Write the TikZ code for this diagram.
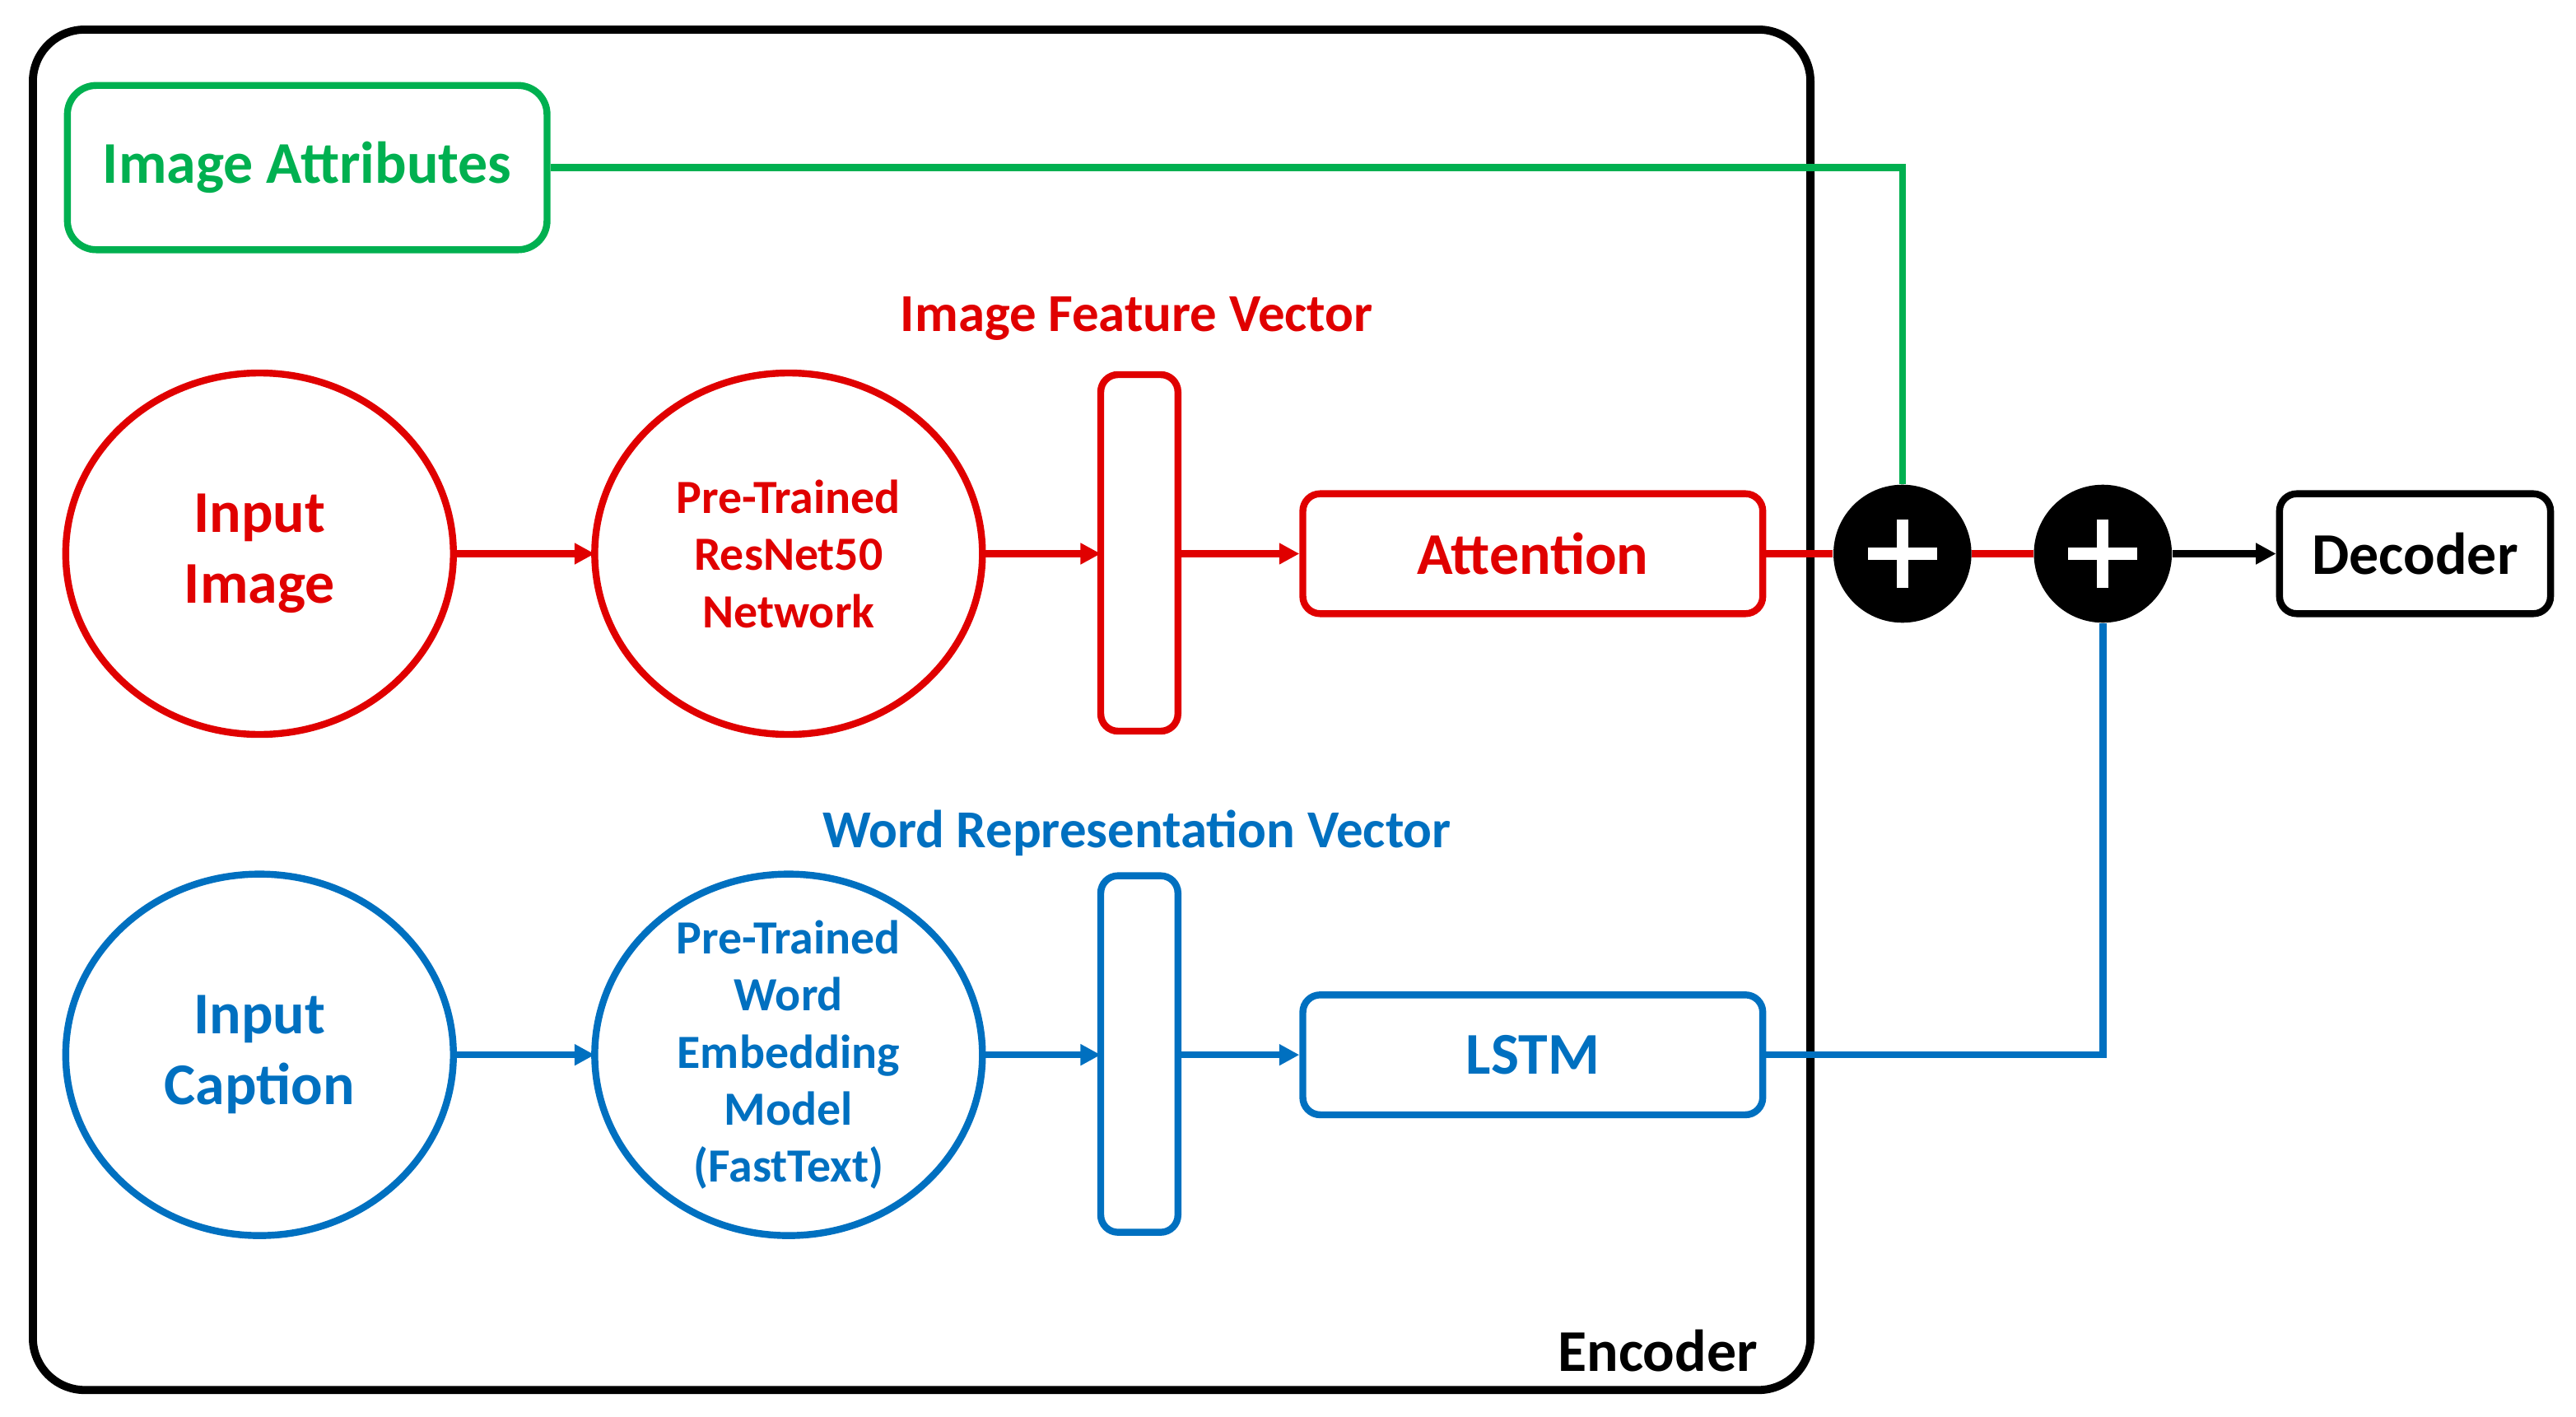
\documentclass[tikz,border=0pt]{standalone}
\usepackage{fontspec}
\setmainfont{Carlito}
\usetikzlibrary{arrows.meta}
\definecolor{cred}{HTML}{E00000}
\definecolor{cblue}{HTML}{0070C0}
\definecolor{cgreen}{HTML}{00B050}
\begin{document}
\begin{tikzpicture}[x=0.02cm,y=-0.02cm,
  lw/.style={line width=2.4pt},
  box/.style={lw,draw,rounded corners=6pt,align=center,font=\fontsize{20.5}{24}\selectfont\bfseries},
  arr/.style={lw,-{Triangle[length=7pt,width=7pt]}},
  plus/.style={circle,fill=black,minimum size=1.68cm,inner sep=0pt},
  big/.style={font=\fontsize{20.5}{24.5}\selectfont\bfseries,align=center},
  lab/.style={font=\fontsize{18.5}{22}\selectfont\bfseries,align=center},
  small/.style={font=\fontsize{16.5}{19.8}\selectfont\bfseries,align=center}]
\useasboundingbox (0,0) rectangle (1568,862);
% encoder
\draw[line width=2.8pt,rounded corners=18pt] (20,18) rectangle (1102,846);
\node[big,anchor=east] (enc) at (1076,822) {Encoder};
% attributes
\node[box,draw=cgreen,text=cgreen,minimum width=5.84cm,minimum height=2cm,rounded corners=10pt] (attr) at (187,102) {Image Attributes};
% red row
\draw[lw,cred] (158,337) ellipse [x radius=118,y radius=110];
\node[big,text=cred] (ii) at (158,337) {Input\\Image};
\draw[lw,cred] (480,337) ellipse [x radius=118,y radius=110];
\node[small,text=cred] (rn) at (480,337) {Pre-Trained\\ResNet50\\Network};
\draw[lw,cred,rounded corners=6pt] (670,228) rectangle (717,445);
\coordinate (fvL) at (670,337); \coordinate (fvR) at (717,337);
\node[lab,text=cred] (fvt) at (692,194) {Image Feature Vector};
\node[box,draw=cred,text=cred,minimum width=5.6cm,minimum height=1.46cm] (att) at (933,337) {Attention};
\coordinate (iiR) at (276,337); \coordinate (rnL) at (362,337); \coordinate (rnR) at (598,337);
\draw[arr,cred] (iiR) -- (rnL);
\draw[arr,cred] (rnR) -- (fvL);
\draw[arr,cred] (fvR) -- (att.west);
% blue row
\draw[lw,cblue] (158,642) ellipse [x radius=118,y radius=110];
\node[big,text=cblue] (ic) at (158,642) {Input\\Caption};
\draw[lw,cblue] (480,642) ellipse [x radius=118,y radius=110];
\node[small,text=cblue] (we) at (480,642) {Pre-Trained\\Word\\Embedding\\Model\\(FastText)};
\draw[lw,cblue,rounded corners=6pt] (670,533) rectangle (717,750);
\coordinate (wvL) at (670,642); \coordinate (wvR) at (717,642);
\node[lab,text=cblue] (wvt) at (692,507) {Word Representation Vector};
\node[box,draw=cblue,text=cblue,minimum width=5.6cm,minimum height=1.46cm] (lstm) at (933,642) {LSTM};
\coordinate (icR) at (276,642); \coordinate (weL) at (362,642); \coordinate (weR) at (598,642);
\draw[arr,cblue] (icR) -- (weL);
\draw[arr,cblue] (weR) -- (wvL);
\draw[arr,cblue] (wvR) -- (lstm.west);
% combine
\node[plus] (p1) at (1158,337) {};
\node[plus] (p2) at (1280,337) {};
\foreach \p in {p1,p2}{
  \draw[white,line width=4pt] ([xshift=-0.42cm]\p.center) -- ([xshift=0.42cm]\p.center);
  \draw[white,line width=4pt] ([yshift=-0.42cm]\p.center) -- ([yshift=0.42cm]\p.center);}
\node[box,draw=black,minimum width=3.3cm,minimum height=1.46cm] (dec) at (1470,337) {Decoder};
\draw[lw,cgreen] (attr.east) -- (attr.east -| p1) -- (p1.north);
\draw[lw,cred] (att.east) -- (p1.west);
\draw[lw,cred] (p1.east) -- (p2.west);
\draw[lw,cblue] (lstm.east) -- (lstm.east -| p2) -- (p2.south);
\draw[arr,black] (p2.east) -- (dec.west);
\end{tikzpicture}
\end{document}
